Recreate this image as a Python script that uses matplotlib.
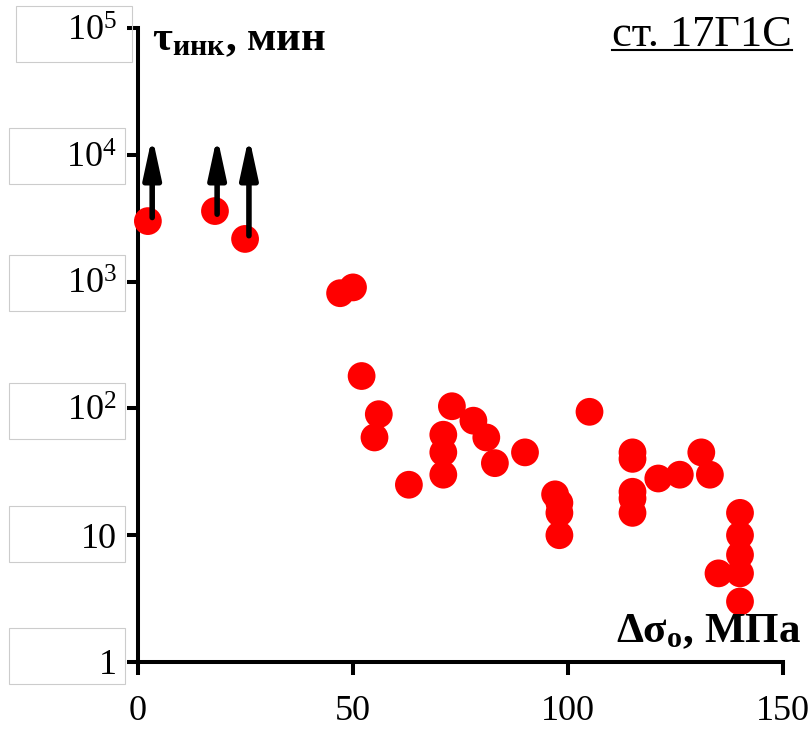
import numpy as np
import matplotlib as mpl
import matplotlib.pyplot as plt
from matplotlib.patches import Rectangle
from matplotlib.lines import Line2D
from matplotlib.ticker import NullLocator

mpl.rcParams['font.family'] = ['Liberation Serif', 'DejaVu Serif']
mpl.rcParams['mathtext.fontset'] = 'custom'
mpl.rcParams['mathtext.rm'] = 'Liberation Serif'
mpl.rcParams['mathtext.it'] = 'Liberation Serif:italic'
mpl.rcParams['mathtext.bf'] = 'Liberation Serif:bold'

# stress range (MPa) and incubation time (min)
dsigma = [2.3, 17.9, 24.9, 47, 50, 52, 56, 55, 63, 71, 71, 71, 73, 78, 81, 83, 90, 105,
          97, 98, 98, 98, 115, 115, 115, 115, 115, 121, 126, 131, 133,
          140, 140, 140, 140, 135, 140]
tau = [3000, 3600, 2170, 810, 900, 180, 90, 59, 25, 62, 45, 30, 104, 80, 59, 37, 45, 94,
       21, 18, 15, 10, 45, 40, 22, 19.5, 15, 28, 30, 45, 30,
       15, 10, 7, 5, 5, 3]

# run-outs (arrows up)
arrow_x = [3.3, 18.4, 25.8]
arrow_from = [3200, 3400, 2300]
arrow_to = 14000

xticks = [0, 50, 100, 150]
yticks = [1, 10, 1e2, 1e3, 1e4, 1e5]
ylabels = ['1', '10', '$10^2$', '$10^3$', '$10^4$', '$10^5$']

W, H = 811, 731
fig = plt.figure(figsize=(W / 100, H / 100), dpi=100)
ax = fig.add_axes([138 / W, 1 - 662 / H, (783 - 138) / W, (662 - 28) / H])

ax.scatter(dsigma, tau, s=400, color='#ff0000', edgecolors='none', zorder=3, clip_on=False)
for xa, ya in zip(arrow_x, arrow_from):
    ax.annotate('', xy=(xa, arrow_to), xytext=(xa, ya),
                arrowprops=dict(arrowstyle='-|>,head_length=1.2,head_width=0.26',
                                mutation_scale=20, lw=4.0, color='k',
                                shrinkA=0, shrinkB=0), zorder=4)

ax.set_yscale('log')
ax.set_xlim(0, 150)
ax.set_ylim(1, 1e5)
ax.set_xticks(xticks)
ax.set_yticks(yticks)
ax.set_yticklabels(ylabels)
ax.yaxis.set_minor_locator(NullLocator())

for s in ['top', 'right']:
    ax.spines[s].set_visible(False)
for s in ['left', 'bottom']:
    ax.spines[s].set_linewidth(2.9)
ax.tick_params(axis='x', direction='out', length=9, width=2.9, pad=15, labelsize=26)
ax.tick_params(axis='y', direction='out', length=8, width=2.9, pad=7, labelsize=26)

# boxes around y tick labels (small shifts as in the original)
box_dy = [-6, -1, 3, 1, 1, 6]
box_dx = [0, 0, 0, 0, 0, 7]
for yt, dy, dx in zip(yticks, box_dy, box_dx):
    yc = ax.transData.transform((0, yt))[1] - dy
    fig.add_artist(Rectangle(((9 + dx) / W, (yc - 28) / H), 116 / W, 56 / H,
                             transform=fig.transFigure, fill=False,
                             ec='#cccccc', lw=0.8))

fig.text(152 / W, 1 - 50 / H, r'τ$_\mathbf{инк}$, мин', fontsize=31, fontweight='bold',
         ha='left', va='baseline')
fig.text(801 / W, 1 - 642 / H, r'Δσ$_\mathbf{o}$, МПа', fontsize=31, fontweight='bold',
         ha='right', va='baseline')
t = fig.text(792 / W, 1 - 46 / H, 'ст. 17Г1С', fontsize=32, ha='right', va='baseline')

fig.canvas.draw()
bb = t.get_window_extent(renderer=fig.canvas.get_renderer())
yline = 1 - 49.5 / H
fig.add_artist(Line2D([bb.x0 / W, bb.x1 / W], [yline, yline], color='k', lw=1.5,
                      transform=fig.transFigure))

fig.savefig('out.png', dpi=100)
